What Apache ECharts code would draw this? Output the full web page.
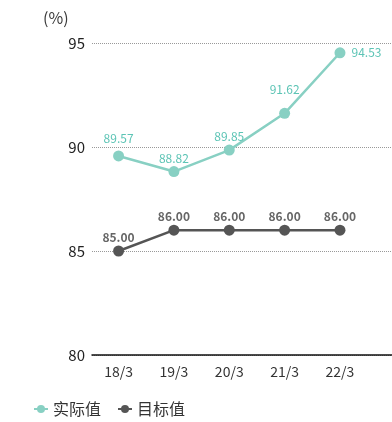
<!DOCTYPE html>
<html>
<head>
<meta charset="utf-8">
<script src="https://cdn.jsdelivr.net/npm/echarts@6/dist/echarts.min.js"></script>
<style>
  html, body { margin: 0; padding: 0; background: #fff; }
  #chart { width: 392px; height: 422px; }
</style>
</head>
<body>
<div id="chart"></div>
<script>
// 数据
const categories = ['18/3', '19/3', '20/3', '21/3', '22/3']
const actualValues = [89.57, 88.82, 89.85, 91.62, 94.53]
const targetValues = [85.0, 86.0, 86.0, 86.0, 86.0]
const yTicks = [80, 85, 90, 95]

const font = '"Noto Sans CJK SC", "Open Sans", sans-serif'

// x 轴用数值轴, 以便轴线延伸到右边缘
const toPoints = arr => arr.map((v, i) => [i, v])

// 实际值标签的微调 (避开折线)
const actualLabelShift = [
  { dy: -4 },
  {},
  {},
  { dy: -10 },
  null
]

const myChart = echarts.init(document.getElementById('chart'))
const option = {
  animation: false,
  textStyle: { fontFamily: font },
  title: {
    text: '(%)',
    left: 38,
    top: 5,
    textStyle: { fontSize: 16, fontWeight: 'normal', color: '#3a3a3a', fontFamily: font }
  },
  grid: {
    left: 92,
    right: 0,
    top: 43,
    bottom: 67,
    containLabel: false
  },
  legend: {
    left: 28,
    bottom: 0,
    itemWidth: 14,
    itemHeight: 10,
    itemGap: 16,
    textStyle: { fontSize: 16, color: '#333', fontFamily: font },
    data: ['实际值', '目标值']
  },
  xAxis: {
    type: 'value',
    min: -0.48,
    max: 4.94,
    splitLine: { show: false },
    axisTick: { show: false },
    axisLine: { show: true, lineStyle: { color: '#111', width: 1.5 } },
    axisLabel: {
      customValues: categories.map((c, i) => i),
      formatter: v => categories[Math.round(v)],
      fontSize: 14,
      color: '#333',
      margin: 10
    }
  },
  yAxis: {
    type: 'value',
    min: yTicks[0],
    max: yTicks[yTicks.length - 1],
    interval: 5,
    axisLine: { show: false },
    axisTick: { show: false },
    axisLabel: { fontSize: 15, color: '#222', margin: 7 },
    splitLine: { lineStyle: { type: 'dotted', color: '#999', width: 1 } }
  },
  series: [
    {
      name: '实际值',
      type: 'line',
      data: toPoints(actualValues),
      symbol: 'circle',
      symbolSize: 11,
      color: '#88d0c3',
      lineStyle: { width: 2.5, color: '#88d0c3' },
      label: {
        show: true,
        position: 'top',
        distance: 2,
        fontSize: 12,
        color: '#5cc4b5',
        formatter: p => p.value[1].toFixed(2)
      },
      labelLayout: params => {
        const s = actualLabelShift[params.dataIndex]
        if (s === null) {
          // 最后一个点: 标签放在右侧
          return { x: params.rect.x + params.rect.width + 6, y: params.rect.y + params.rect.height / 2, align: 'left', verticalAlign: 'middle' }
        }
        return s
      }
    },
    {
      name: '目标值',
      type: 'line',
      data: toPoints(targetValues),
      symbol: 'circle',
      symbolSize: 11,
      color: '#555555',
      lineStyle: { width: 2.5, color: '#555555' },
      label: {
        show: true,
        position: 'top',
        distance: 2,
        fontSize: 12,
        fontWeight: 'bold',
        color: '#666',
        formatter: p => p.value[1].toFixed(2)
      }
    }
  ]
}
myChart.setOption(option)
</script>
</body>
</html>
